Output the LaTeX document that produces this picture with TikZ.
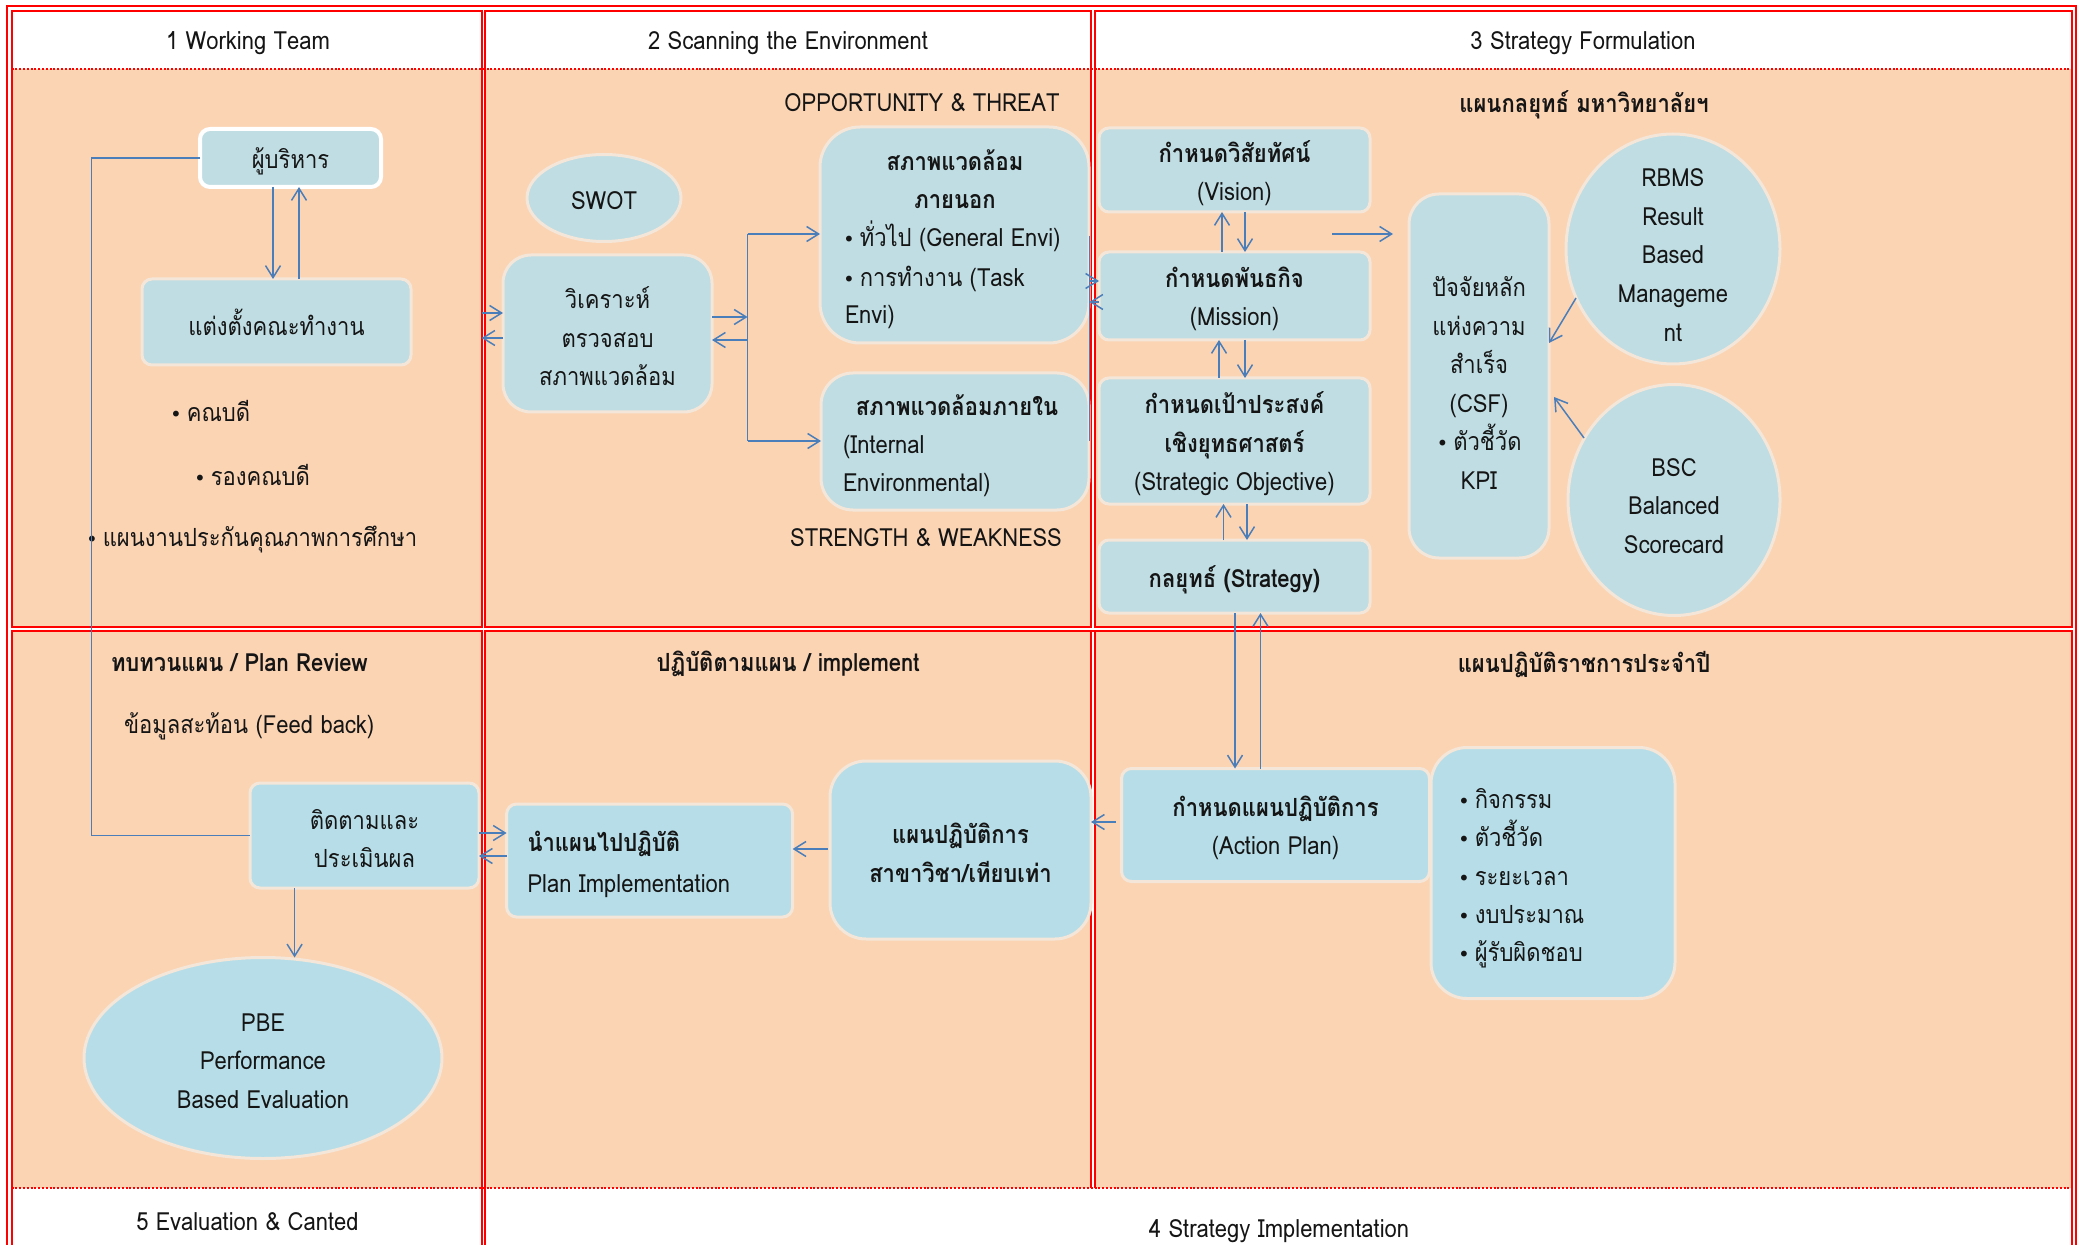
\documentclass[tikz,border=0pt]{standalone}
\usepackage{fontspec}
\setmainfont{Loma}[Script=Thai, FakeStretch=0.88]
\newfontfamily\dv{DejaVu Sans}
\newcommand\bul{{\dv\fontsize{10}{10}\selectfont\char"2022}\hspace{2.5pt}}
\usetikzlibrary{arrows.meta,shapes.geometric}
\definecolor{peach}{HTML}{FBD4B4}
\definecolor{boxa}{HTML}{BFDDE3}
\definecolor{boxb}{HTML}{B7DEE8}
\definecolor{bord}{HTML}{F4E6D8}
\definecolor{redl}{HTML}{FF0000}
\definecolor{arrc}{HTML}{4A7EBB}
\definecolor{txt}{HTML}{151515}
\begin{document}
\begin{tikzpicture}[x=0.5pt,y=-0.5pt,
  font=\fontsize{12.5}{19.3}\selectfont,
  every node/.style={inner sep=0pt, outer sep=0pt, text=txt},
  box/.style={draw=bord, line width=1.5pt, fill=boxa, rounded corners=#1},
  box/.default=5pt,
  bt/.style={label={[align=center, yshift=-1.5pt]center:{#1}}},
  btn/.style={label={[align=center]center:{#1}}},
  ell/.style={ellipse, draw=bord, line width=1.5pt, fill=boxa},
  lbl/.style={anchor=mid, yshift=-1.5pt},
  lblw/.style={anchor=mid west, yshift=-1.5pt},
  bf/.style={font=\fontsize{12.5}{19.3}\selectfont\bfseries},
  redln/.style={draw=redl, line width=1pt},
  dotln/.style={draw=redl, line width=1pt, dash pattern=on 1pt off 0.9pt},
  conn/.style={draw=arrc, line width=0.75pt},
  arr/.style={draw=arrc, line width=0.75pt, -{Straight Barb[length=6pt,width=7.5pt]}}
]
\useasboundingbox (0,0) rectangle (2080,1245);
\fill[white] (0,0) rectangle (2080,1245);
% ---------- cell fills ----------
\fill[peach] (11.5,69.5) rectangle (481.5,626.5);
\fill[peach] (484.7,69.5) rectangle (1091,626.5);
\fill[peach] (1094.5,69.5) rectangle (2071.7,626.5);
\fill[peach] (11.5,630.7) rectangle (481.5,1187.7);
\fill[peach] (484.7,630.7) rectangle (1091,1187.7);
\fill[peach] (1094.5,630.7) rectangle (2071.7,1187.7);
% ---------- red frames ----------
\draw[redln] (7,1260) -- (7,6) -- (2075.7,6) -- (2075.7,1260);
\draw[redln] (11.5,11) rectangle (481.5,626.5);
\draw[redln] (484.7,11) rectangle (1091,626.5);
\draw[redln] (1094.5,11) rectangle (2071.7,626.5);
\draw[redln] (11.5,1260) -- (11.5,630.7) -- (481.5,630.7) -- (481.5,1260);
\draw[redln] (484.7,1260) -- (484.7,630.7) -- (2071.7,630.7) -- (2071.7,1260);
\draw[redln] (1091,630.7) -- (1091,1187.7);
\draw[redln] (1094.5,630.7) -- (1094.5,1187.7);
\draw[dotln] (11.5,69.5) -- (2071.7,69.5);
\draw[dotln] (11.5,1187.7) -- (2071.7,1187.7);
% ---------- headers ----------
\node[lbl] (h1) at (248,41) {1 Working Team};
\node[lbl] (h2) at (788,41) {2 Scanning the Environment};
\node[lbl] (h3) at (1583,41) {3 Strategy Formulation};
\node[lbl] (h5) at (247.5,1222) {5 Evaluation \& Canted};
\node[lbl] (h4) at (1279,1229) {4 Strategy Implementation};
% ---------- lane 1 ----------
\node[box, draw=white, line width=2pt, minimum width=90.5pt, minimum height=29pt, bt={ผู้บริหาร}] (boss) at (290.5,158) {};
\node[box, minimum width=134.5pt, minimum height=43pt, btn={แต่งตั้งคณะทำงาน}] (team) at (276.5,322) {};
\node[lblw] (t1) at (170,413) {\bul คณบดี};
\node[lblw] (t2) at (194,477) {\bul รองคณบดี};
\node[lblw] (t3) at (86,538) {\bul แผนงานประกันคุณภาพการศึกษา};
\draw[arr] (boss.south -| 273,0) -- (team.north -| 273,0);
\draw[arr] (team.north -| 299,0) -- (boss.south -| 299,0);
% ---------- lane 5 ----------
\node[lblw, bf] (rev) at (111,663) {ทบทวนแผน / Plan Review};
\node[lblw] (fbk) at (124,725) {ข้อมูลสะท้อน (Feed back)};
\node[box, fill=boxb, minimum width=114.5pt, minimum height=52.5pt, bt={ติดตามและ\\ประเมินผล}] (monitor) at (364.5,835.5) {};
\node[ell, fill=boxb, minimum width=179pt, minimum height=100.5pt, bt={PBE\\Performance\\Based Evaluation}] (pbe) at (263,1058) {};
\coordinate (fb) at (91.5,0);
\draw[conn] (boss.west) -- (boss.west -| fb) -- (monitor.west -| fb) -- (monitor.west);
\draw[arr] (monitor.south -| 294.6,0) -- (pbe.north -| 294.6,0);
% ---------- lane 2 ----------
\node[lbl] (ot) at (922,103) {OPPORTUNITY \& THREAT};
\node[lbl] (sw) at (926,538) {STRENGTH \& WEAKNESS};
\node[ell, minimum width=77pt, minimum height=43.5pt, bt={SWOT}] (swot) at (604,198) {};
\node[box=14pt, minimum width=104.5pt, minimum height=78.5pt, bt={วิเคราะห์\\ตรวจสอบ\\สภาพแวดล้อม}] (analyze) at (607.5,333.5) {};
\node[box=20pt, minimum width=134.5pt, minimum height=108pt] (ext) at (954.5,235) {};
\node[lbl, bf] (extA) at (955,162) {สภาพแวดล้อม};
\node[lbl, bf] (extB) at (955,200) {ภายนอก};
\node[lblw] (extC) at (843,238) {\bul ทั่วไป (General Envi)};
\node[lblw] (extD) at (843,278) {\bul การทำงาน (Task};
\node[lblw] (extE) at (845,315) {Envi)};
\node[box=16pt, minimum width=134pt, minimum height=68.5pt] (int) at (955,441.5) {};
\node[lbl, bf] (intA) at (957,407) {สภาพแวดล้อมภายใน};
\node[lblw] (intB) at (843,445) {(Internal};
\node[lblw] (intC) at (843,483) {Environmental)};
\coordinate (b12) at (481.5,0);
\coordinate (sp) at (747.5,0);
\coordinate (b23) at (1089.5,0);
\draw[arr] (b12 |- 0,313) -- (analyze.west |- 0,313);
\draw[arr] (analyze.west |- 0,338) -- (b12 |- 0,338);
\draw[arr] (analyze.east |- 0,317) -- (sp |- 0,317);
\draw[arr] (sp |- 0,340) -- (analyze.east |- 0,340);
\draw[conn] (sp |- 0,234) -- (sp |- 0,441);
\draw[arr] (sp |- 0,234) -- (ext.west |- 0,234);
\draw[arr] (sp |- 0,441) -- (int.west |- 0,441);
\draw[conn] (b23 |- 0,236) -- (b23 |- 0,441);
% ---------- lane 3 ----------
\node[lbl, bf] (h3b) at (1584,104) {แผนกลยุทธ์ มหาวิทยาลัยฯ};
\node[box, minimum width=135.5pt, minimum height=42pt, bt={\bfseries กำหนดวิสัยทัศน์\\(Vision)}] (vision) at (1234.5,170) {};
\node[box, minimum width=135.5pt, minimum height=44pt, bt={\bfseries กำหนดพันธกิจ\\(Mission)}] (mission) at (1234.5,296) {};
\node[box, minimum width=135.5pt, minimum height=63pt, bt={\bfseries กำหนดเป้าประสงค์\\\bfseries เชิงยุทธศาสตร์\\(Strategic Objective)}] (obj) at (1234.5,441) {};
\node[box, minimum width=135.5pt, minimum height=36.5pt, bt={\bfseries กลยุทธ์ (Strategy)}] (strat) at (1234.5,576.5) {};
\node[box=15pt, minimum width=70pt, minimum height=182pt] (csf) at (1479,376) {};
\node[align=center, yshift=-1.5pt] (csfT) at (1479,380) {ปัจจัยหลัก\\แห่งความ\\สำเร็จ\\(CSF)\\\bul ตัวชี้วัด\\KPI};
\node[ell, minimum width=107pt, minimum height=115pt] (rbms) at (1673,249) {};
\node[align=center, yshift=-1.5pt] (rbmsT) at (1673,252) {RBMS\\Result\\Based\\Manageme\\nt};
\node[ell, minimum width=106pt, minimum height=115.5pt] (bsc) at (1674,500) {};
\node[align=center, yshift=-1.5pt] (bscT) at (1674,503) {BSC\\Balanced\\Scorecard};
\draw[arr] (b23 |- 0,281) -- (mission.west |- 0,281);
\draw[arr] (mission.west |- 0,302) -- (b23 |- 0,302);
\draw[arr] (mission.north -| 1222,0) -- (vision.south -| 1222,0);
\draw[arr] (vision.south -| 1245,0) -- (mission.north -| 1245,0);
\draw[arr] (obj.north -| 1219,0) -- (mission.south -| 1219,0);
\draw[arr] (mission.south -| 1245,0) -- (obj.north -| 1245,0);
\draw[arr] (strat.north -| 1223.5,0) -- (obj.south -| 1223.5,0);
\draw[arr] (obj.south -| 1247,0) -- (strat.north -| 1247,0);
\coordinate (vm) at (1332,234);
\draw[arr] (vm) -- ([xshift=-8pt]csf.west |- vm);
\coordinate (rb) at (1576,298);
\draw[arr] (rb) -- (csf.east |- 0,343);
\coordinate (bs) at (1584,438);
\draw[arr] (bs) -- ([xshift=2.5pt]csf.east |- 0,397);
% ---------- lane 4 ----------
\node[lbl, bf] (h4b) at (788,663) {ปฏิบัติตามแผน / implement};
\node[lbl, bf] (h4c) at (1584,664) {แผนปฏิบัติราชการประจำปี};
\node[box, fill=boxb, minimum width=143pt, minimum height=56.5pt] (impl) at (649.6,860.5) {};
\node[lblw, bf] (implA) at (527.5,843) {นำแผนไปปฏิบัติ};
\node[lblw] (implB) at (527.5,884) {Plan Implementation};
\node[box=18pt, fill=boxb, minimum width=130.5pt, minimum height=89pt, bt={\bfseries แผนปฏิบัติการ\\\bfseries สาขาวิชา/เทียบเท่า}] (op) at (960.5,850) {};
\node[box, fill=boxb, minimum width=154pt, minimum height=56.5pt, bt={\bfseries กำหนดแผนปฏิบัติการ\\(Action Plan)}] (act) at (1275.5,825) {};
\node[box=18pt, fill=boxb, minimum width=122pt, minimum height=125.5pt] (list) at (1553,873) {};
\node[lblw] (l1) at (1458,800) {\bul กิจกรรม};
\node[lblw] (l2) at (1458,838) {\bul ตัวชี้วัด};
\node[lblw] (l3) at (1458,877) {\bul ระยะเวลา};
\node[lblw] (l4) at (1458,915.5) {\bul งบประมาณ};
\node[lblw] (l5) at (1458,953.5) {\bul ผู้รับผิดชอบ};
\draw[arr] (strat.south -| 1235,0) -- (act.north -| 1235,0);
\draw[arr] (act.north -| 1260.5,0) -- (strat.south -| 1260.5,0);
\draw[arr] ([xshift=-3pt]act.west |- 0,822) -- (op.east |- 0,822);
\draw[arr] ([xshift=-1pt]op.west |- 0,849) -- (impl.east |- 0,849);
\draw[arr] (monitor.east |- 0,833) -- (impl.west |- 0,833);
\draw[arr] (impl.west |- 0,856) -- (monitor.east |- 0,856);
\end{tikzpicture}
\end{document}
